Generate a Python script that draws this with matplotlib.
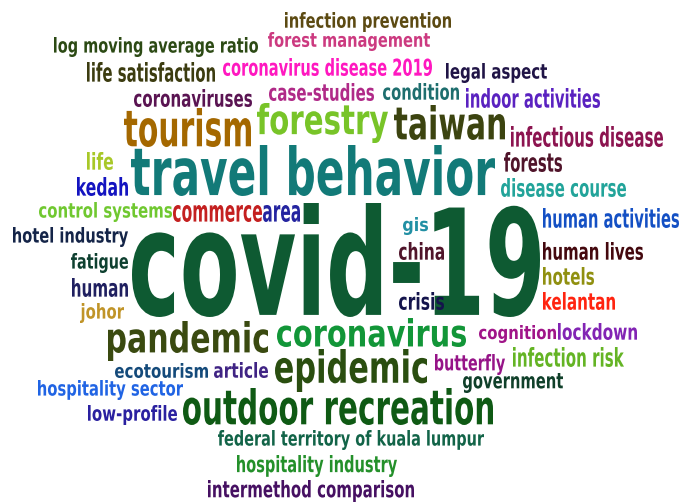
import matplotlib
matplotlib.use('Agg')
import matplotlib.pyplot as plt
from matplotlib.patheffects import AbstractPathEffect
from matplotlib.transforms import Affine2D


# words of the cloud and a rough weight for each (bigger word = bigger weight)
words = ['infection prevention', 'forest management', 'log moving average ratio',
         'life satisfaction', 'coronavirus disease 2019', 'legal aspect',
         'coronaviruses', 'case-studies', 'condition', 'indoor activities',
         'tourism', 'forestry', 'taiwan', 'infectious disease', 'travel behavior',
         'life', 'forests', 'kedah', 'disease course', 'control systems',
         'commerce', 'area', 'covid-19', 'human activities', 'gis',
         'hotel industry', 'china', 'human lives', 'fatigue', 'hotels',
         'human', 'kelantan', 'crisis', 'johor', 'pandemic', 'coronavirus',
         'cognition', 'lockdown', 'epidemic', 'ecotourism', 'article',
         'butterfly', 'infection risk', 'government', 'hospitality sector',
         'outdoor recreation', 'low-profile', 'federal territory of kuala lumpur',
         'hospitality industry', 'intermethod comparison']

weights = [2, 2, 2, 2, 2, 2, 2, 2, 2, 2,
           4, 4, 4, 2, 6, 2, 2, 2, 2, 2,
           2, 2, 12, 2, 2, 2, 2, 2, 2, 2,
           2, 2, 2, 2, 4, 3, 2, 2, 4, 2,
           2, 2, 2, 2, 2, 4, 2, 2, 2, 2]

# layout of the cloud: ink box of each word (left, top, right, bottom) in pixels
boxes = [(285, 12, 451, 32), (268, 32, 430, 51), (54, 37, 258, 57),
         (87, 62, 215, 82), (223, 58, 432, 76), (446, 63, 547, 83),
         (134, 89, 252, 107), (269, 83, 374, 101), (383, 83, 459, 100),
         (466, 88, 600, 108), (124, 108, 251, 147), (257, 103, 388, 143),
         (394, 105, 505, 140), (511, 126, 663, 147), (131, 145, 495, 196),
         (87, 152, 113, 170), (504, 152, 562, 172), (77, 177, 128, 196),
         (501, 178, 626, 197), (39, 202, 172, 222), (173, 205, 262, 222),
         (263, 205, 300, 222), (132, 203, 540, 317), (543, 208, 679, 228),
         (403, 217, 428, 235), (13, 227, 128, 247), (399, 242, 444, 260),
         (543, 242, 643, 260), (71, 253, 128, 273), (543, 267, 594, 285),
         (72, 278, 128, 297), (543, 292, 615, 310), (399, 292, 444, 310),
         (80, 303, 124, 323), (108, 321, 268, 361), (277, 318, 466, 347),
         (479, 325, 556, 343), (558, 323, 637, 340), (275, 349, 427, 392),
         (115, 363, 208, 378), (214, 362, 268, 378), (435, 354, 505, 375),
         (513, 347, 624, 367), (463, 373, 563, 393), (38, 380, 183, 400),
         (183, 388, 493, 425), (88, 405, 177, 425), (218, 430, 484, 450),
         (237, 455, 397, 477), (208, 480, 414, 502)]

colors = ['#5c4a12', '#cc3a80', '#2c4a14', '#3c3c10', '#ff18c0', '#201446',
          '#5a1452', '#b02a88', '#1e6e6e', '#5a22c0', '#a46800', '#78c428',
          '#3c4410', '#8c1450', '#127a78', '#a8c828', '#50142a', '#1414c0',
          '#22a49a', '#70c830', '#c42020', '#2424a0', '#0e5a32', '#1450c4',
          '#2290a4', '#142448', '#50142a', '#44080e', '#0e4030', '#909010',
          '#202060', '#ff2410', '#14144c', '#c09428', '#3a4a10', '#129638',
          '#a01488', '#8224b4', '#2a4e10', '#144a7a', '#402484', '#961488',
          '#64b424', '#10402a', '#2064e4', '#0f5a14', '#2a20a0', '#126448',
          '#24902a', '#461062']


#Path effect that stretches the glyphs of a text to fill its box (tall condensed look)
class FitBox(AbstractPathEffect):
    def __init__(self, ax, box):
        super().__init__()
        self.ax = ax
        self.box = box

    def draw_path(self, renderer, gc, tpath, affine, rgbFace=None):
        ink = tpath.get_extents(affine)
        x0, y0, x1, y1 = self.box
        (dx0, dy0), (dx1, dy1) = self.ax.transData.transform([(x0, y1), (x1, y0)])
        fit = (Affine2D().translate(-ink.x0, -ink.y0)
               .scale((dx1 - dx0) / ink.width, (dy1 - dy0) / ink.height)
               .translate(dx0, dy0))
        renderer.draw_path(gc, tpath, affine + fit, rgbFace)


fig = plt.figure(figsize=(6.82, 5.03), dpi=100)
ax = fig.add_axes([0, 0, 1, 1])
ax.set_xlim(0, 682)
ax.set_ylim(503, 0)
ax.axis('off')
renderer = fig.canvas.get_renderer()

for word, w, box, c in zip(words, weights, boxes, colors):
    cx = (box[0] + box[2]) / 2
    cy = (box[1] + box[3]) / 2
    size = 6 + 2 * w
    t = ax.text(cx, cy, word, ha='center', va='center', color=c,
                fontsize=size, fontweight='bold', family='DejaVu Sans',
                path_effects=[FitBox(ax, box)])
    # size the text so its own extent is about as wide as its box
    ext = t.get_window_extent(renderer)
    t.set_fontsize(size * (box[2] - box[0]) / ext.width * 0.97)

fig.savefig('out.png', dpi=100, facecolor='white')
